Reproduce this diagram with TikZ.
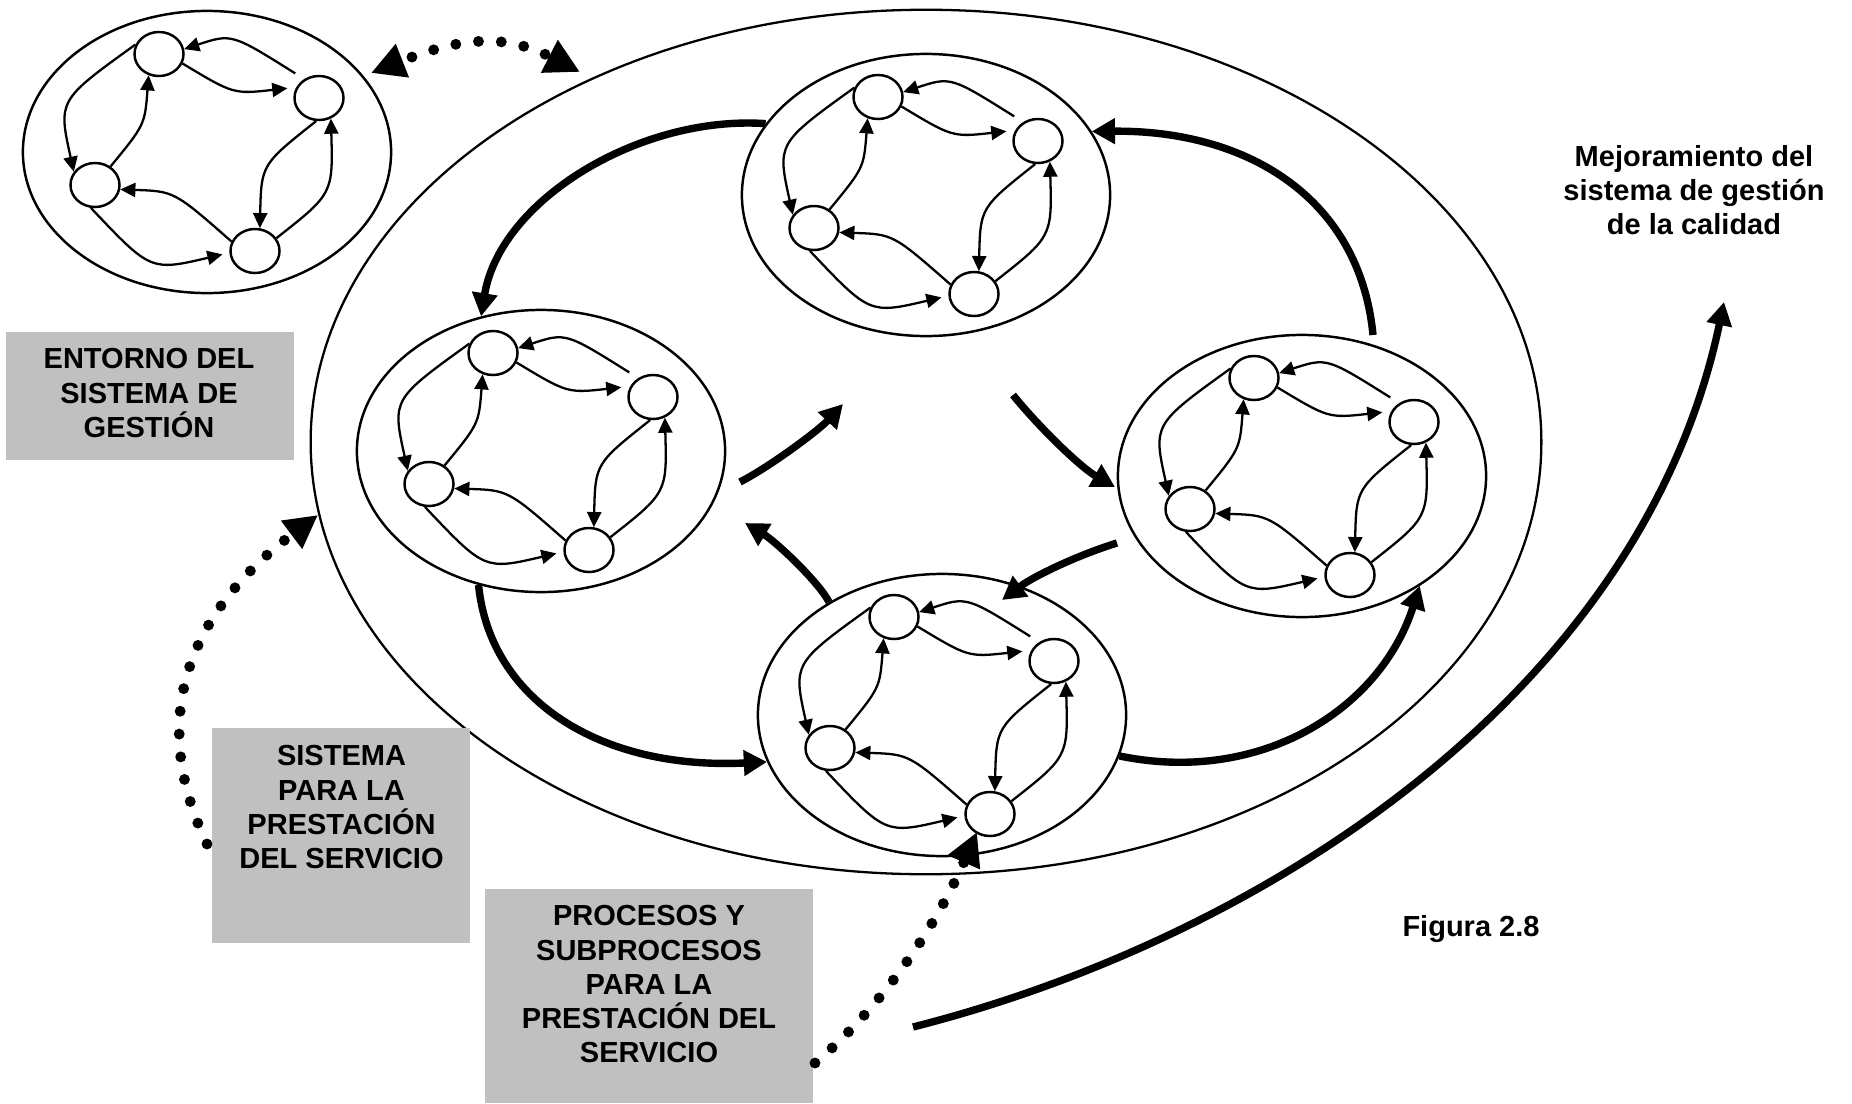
\documentclass[tikz,border=0pt]{standalone}
\usepackage{fontspec}
\setmainfont{Liberation Sans}
\usetikzlibrary{arrows.meta,shapes.geometric}
\definecolor{boxgray}{RGB}{192,192,192}

\tikzset{
  procring/.style={draw, ellipse, line width=0.7pt, minimum width=3.68cm,
    minimum height=2.82cm, inner sep=0pt},
  act/.style={draw, ellipse, line width=0.7pt, minimum width=0.49cm,
    minimum height=0.44cm, inner sep=0pt},
  flow/.style={line width=0.65pt, -{Triangle[length=4.3pt,width=4pt]}},
  bigflow/.style={line width=2.1pt, -{Triangle[length=6.6pt,width=7pt]}},
  link/.style={line width=3.1pt, line cap=round, dash pattern=on 0pt off 6.5pt},
  greybox/.style={fill=boxgray, draw=none, inner sep=0pt},
  lbl/.style={font=\fontsize{8.25}{9.7}\selectfont\bfseries, align=center,
    inner sep=0pt},
}

% one process ring: outer ellipse, four activities and their eight flows
\newcommand\proccluster[3]{%
  \node[procring] (#1) at (#2,#3) {};
  \begin{scope}[shift={(#2,#3)}]
    \node[act] (#1a) at (-48,-98) {};
    \node[act] (#1b) at (112,-54) {};
    \node[act] (#1c) at (-112,33) {};
    \node[act] (#1d) at (48,99) {};
    \draw[flow, shorten >=2.5pt] (#1a.-22) .. controls (26.5,-57.8) .. (#1b.155);
    \draw[flow, shorten <=3pt] (#1b.128) .. controls (24.7,-118.5) .. (#1a.11);
    \draw[flow] (#1a.158) .. controls (-149,-51.7) .. (#1c.148);
    \draw[flow] (#1c.50) .. controls (-62.2,-27.2) .. (#1a.244);
    \draw[flow] (#1d.158) .. controls (-32.8,39.2) .. (#1c.-10);
    \draw[flow, shorten >=2pt] (#1c.260) .. controls (-56.3,119.2) .. (#1d.184);
    \draw[flow] (#1b.263) .. controls (54.3,12.5) .. (#1d.78);
    \draw[flow] (#1d.31) .. controls (126,41.7) .. (#1b.-60);
  \end{scope}}

\begin{document}
\begin{tikzpicture}[x=0.01cm, y=-0.01cm]
\useasboundingbox (0,0) rectangle (1852,1103);

% system of service delivery
\node[draw, ellipse, line width=0.65pt, minimum width=12.3cm, minimum height=8.64cm,
  inner sep=0pt] (sys) at (926,442) {};

% environment and the four processes
\proccluster{env}{207}{152}
\proccluster{pT}{926}{195}
\proccluster{pL}{541}{451}
\proccluster{pR}{1302}{476}
\proccluster{pB}{942}{715}

% flows between processes
\draw[bigflow] (pT.156) .. controls (640,115) and (500,200) .. (pL.114);
\coordinate (a2s) at (740,482); \coordinate (a2e) at (843,404);
\draw[bigflow] (a2s) .. controls (771,466) and (819,430) .. (a2e);
\coordinate (a3s) at (1013,395); \coordinate (a3e) at (1115,487);
\draw[bigflow] (a3s) .. controls (1038,426) and (1080,467) .. (a3e);
\coordinate (a4s) at (1117,543); \coordinate (a4e) at (1002,600);
\draw[bigflow] (a4s) .. controls (1078,555) and (1034,576) .. (a4e);
\coordinate (a5e) at (745,523);
\draw[bigflow] (pB.135) .. controls (818,581) and (775,541) .. (a5e);
\draw[bigflow] (pL.245) .. controls (490,700) and (600,770) .. (pB.195);
\draw[bigflow] (pB.347) .. controls (1260,785) and (1380,710) .. (pR.317);
\coordinate (a8s) at (1373,335);
\draw[bigflow] (a8s) .. controls (1360,200) and (1250,130) .. (pT.21);

% continual improvement
\coordinate (m0) at (913,1027); \coordinate (m1) at (1724,302);
\draw[bigflow] (m0) .. controls (1271,936) and (1643,688) .. (m1);

% labels
\node[greybox, minimum width=2.88cm, minimum height=1.28cm] (envbox) at (150,396) {};
\node[lbl, anchor=north] (envtxt) at (149,348) {ENTORNO DEL\\SISTEMA DE\\GESTIÓN};
\node[greybox, minimum width=2.575cm, minimum height=2.15cm] (sisbox) at (341.25,835.5) {};
\node[lbl, anchor=north] (sistxt) at (341.5,745)
  {SISTEMA\\PARA LA\\PRESTACIÓN\\DEL SERVICIO};
\node[greybox, minimum width=3.28cm, minimum height=2.14cm] (procbox) at (649,996) {};
\node[lbl, anchor=north] (proctxt) at (649,905)
  {PROCESOS Y\\SUBPROCESOS\\PARA LA\\PRESTACIÓN DEL\\SERVICIO};
\node[lbl, anchor=north] (mejora) at (1694,145)
  {Mejoramiento del\\sistema de gestión\\de la calidad};
\node[lbl, anchor=north] (fig) at (1471,915) {Figura 2.8};

% dotted links
\coordinate (d1a) at (371,73); \coordinate (d1b) at (580,72);
\draw[link, dash phase=3pt,
  {Triangle[length=9.6pt,width=9.6pt]}-{Triangle[length=9.8pt,width=9.8pt]}]
  (d1a) .. controls (455,40) and (500,31) .. (d1b);
\coordinate (d2s) at (207,844); \coordinate (d2e) at (318,515);
\draw[link, -{Triangle[length=9.4pt,width=9.4pt]}]
  (d2s) .. controls (142.5,709) and (198,605) .. (d2e);
\coordinate (d3s) at (815,1063); \coordinate (d3e) at (977,832);
\draw[link, -{Triangle[length=9.4pt,width=9.4pt]}]
  (d3s) .. controls (884,1005) and (937,924) .. (d3e);
\end{tikzpicture}
\end{document}
